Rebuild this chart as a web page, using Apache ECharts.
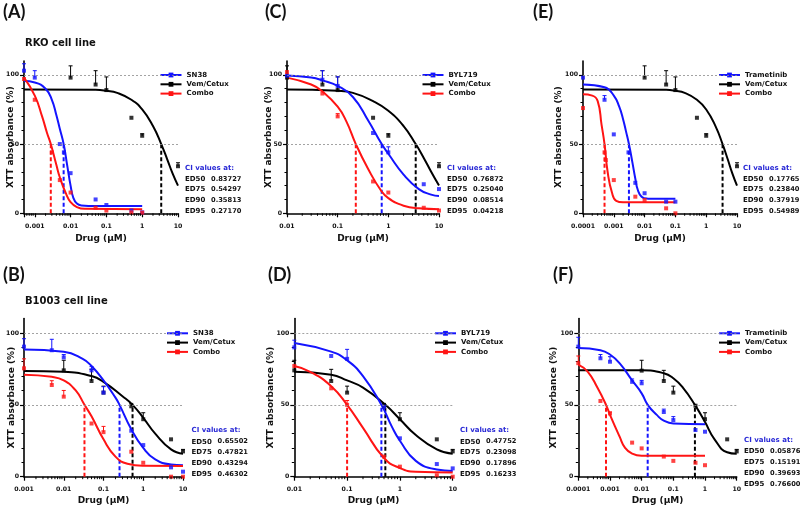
<!DOCTYPE html>
<html><head><meta charset="utf-8">
<script src="https://cdn.jsdelivr.net/npm/echarts@6/dist/echarts.min.js"></script>
<style>html,body{margin:0;padding:0;background:#fff}#c{width:800px;height:507px}</style>
</head><body><div id="c"></div>
<script>
// ---------------- DATA ----------------
const Y_TICK_LABELS = ['0', '50', '100'];
const CI_LABELS = ['ED50', 'ED75', 'ED90', 'ED95'];
const X_NAME = 'Drug (μM)';
const Y_NAME = 'XTT absorbance (%)';
const VEM = 'Vem/Cetux';
const COMBO = 'Combo';

// Panel A: RKO, SN38
const A_xTicks = ['0.001', '0.01', '0.1', '1', '10'];
const A_drugPts = [[0.0005, 103, 108], [0.001, 98, 103], [0.005, 50, null], [0.0065, 44, null], [0.01, 29, null], [0.05, 10, null], [0.1, 6, null], [0.5, 2, null], [1, 0.7, null]];
const A_vemPts = [[0.01, 98, 106.5], [0.05, 93, 103], [0.1, 89, 98.5], [0.5, 69, null], [1, 56, 57.5], [10, 34, 36.5]];
const A_comboPts = [[0.0005, 97, null], [0.001, 82, null], [0.003, 44, null], [0.005, 24, null], [0.01, 15, null], [0.05, 4, null], [0.1, 2, null], [0.5, 0.7, null], [1, 0.5, null]];
const A_drugCurve = [[0.0005, 95.5], [0.001, 94.5], [0.002, 90], [0.003, 82], [0.004, 71], [0.005, 61], [0.0064, 50], [0.008, 35], [0.01, 20], [0.012, 11], [0.015, 7], [0.02, 5.7], [0.05, 5.3], [1, 5.3]];
const A_vemCurve = [[0.0005, 89.5], [0.05, 89.2], [0.1, 88.5], [0.2, 87], [0.5, 82], [1, 75], [2, 63], [3.4, 50], [5, 39], [7, 29], [10, 20]];
const A_comboCurve = [[0.0005, 98], [0.001, 85], [0.0016, 70], [0.0022, 58], [0.0028, 50], [0.004, 35], [0.005, 26], [0.0075, 14], [0.01, 8], [0.015, 4.5], [0.025, 3.2], [1, 3]];
const A_ec50 = [0.0064, 3.4, 0.0028];   // drug, vem, combo
const A_ci = ['0.83727', '0.54297', '0.35813', '0.27170'];

// Panel C: RKO, BYL719
const C_xTicks = ['0.01', '0.1', '1', '10'];
const C_drugPts = [[0.01, 99.5, null], [0.05, 96.5, 103], [0.1, 92, 98.6], [0.5, 58, null], [1, 44, 48], [5, 21, null], [10, 17.5, null]];
const C_vemPts = [[0.01, 98, 106.5], [0.05, 93, 103], [0.1, 89, 98.5], [0.5, 69, null], [1, 56, 57.5], [10, 34, 36.5]];
const C_comboPts = [[0.01, 102, null], [0.05, 86.5, null], [0.1, 70, 72], [0.5, 23, null], [1, 15, null], [5, 4, null], [10, 2, null]];
const C_drugCurve = [[0.01, 99.5], [0.03, 98], [0.05, 96], [0.1, 92], [0.2, 84], [0.4, 67], [0.74, 50], [1, 43], [2, 28], [4, 17.5], [7, 13.5], [10, 12.5]];
const C_vemCurve = [[0.01, 89.5], [0.1, 88.5], [0.2, 87], [0.5, 81], [1, 74], [2, 63], [3.47, 50], [5, 40], [7, 30], [10, 20]];
const C_comboCurve = [[0.01, 98], [0.03, 93], [0.05, 88], [0.1, 77], [0.15, 66], [0.228, 50], [0.4, 32], [0.7, 17], [1, 11], [2, 5.5], [4, 3.6], [10, 3]];
const C_ec50 = [0.74, 3.47, 0.228];
const C_ci = ['0.76872', '0.25040', '0.08514', '0.04218'];

// Panel E: RKO, Trametinib
const E_xTicks = ['0.0001', '0.001', '0.01', '0.1', '1', '10'];
const E_drugPts = [[0.0001, 98, null], [0.0005, 82, 85], [0.001, 57, null], [0.003, 44, null], [0.005, 22, null], [0.01, 14.5, null], [0.05, 8.4, null], [0.1, 8.4, null]];
const E_vemPts = [[0.01, 98, 106.5], [0.05, 93, 103], [0.1, 89, 98.5], [0.5, 69, null], [1, 56, 57.5], [10, 34, 36.5]];
const E_comboPts = [[0.0001, 76, null], [0.0005, 44, null], [0.00055, 38.5, null], [0.001, 24, null], [0.005, 12, null], [0.01, 9.6, null], [0.05, 3.6, null], [0.1, 0, null]];
const E_drugCurve = [[0.0001, 93], [0.0005, 91], [0.001, 85], [0.0015, 77], [0.002, 68], [0.0025, 59], [0.0031, 50], [0.004, 37], [0.005, 25], [0.006, 17], [0.008, 12], [0.012, 10.6], [0.1, 10.5]];
const E_vemCurve = [[0.0001, 89.5], [0.05, 89.2], [0.1, 88.5], [0.2, 87], [0.5, 82], [1, 75], [2, 63], [3.4, 50], [5, 39], [7, 29], [10, 20]];
const E_comboCurve = [[0.0001, 86], [0.0002, 85], [0.0003, 81], [0.0004, 64], [0.0005, 50], [0.00063, 30], [0.00087, 15], [0.0012, 9], [0.002, 8], [0.1, 8]];
const E_ec50 = [0.0031, 3.4, 0.0005];
const E_ci = ['0.17765', '0.23840', '0.37919', '0.54989'];

// Panel B: B1003, SN38
const B_xTicks = ['0.001', '0.01', '0.1', '1', '10'];
const B_drugPts = [[0.001, 90.5, 96], [0.005, 88, 95.6], [0.01, 83, 85], [0.05, 74, 76.6], [0.1, 58.5, 62.6], [0.5, 32, null], [1, 22, null], [5, 6.5, null], [10, 3.5, null]];
const B_vemPts = [[0.01, 74, 81], [0.05, 66.6, 74.7], [0.1, 58.5, 63], [0.5, 49, 51], [1, 40, 44.5], [5, 26, null], [10, 17.6, 19]];
const B_comboPts = [[0.001, 75.4, 82], [0.005, 63.8, 66.8], [0.01, 55.7, 60], [0.05, 37, null], [0.1, 31, 35], [0.5, 17.4, null], [1, 9.7, null], [5, 0, null], [10, 0, null]];
const B_drugCurve = [[0.001, 88.5], [0.01, 87], [0.03, 82], [0.05, 77], [0.1, 67], [0.2, 55], [0.253, 50], [0.5, 33], [1, 20], [2, 12], [5, 8.5], [10, 8]];
const B_vemCurve = [[0.001, 73.5], [0.01, 73], [0.05, 70], [0.1, 66], [0.3, 56], [0.538, 50], [1, 41], [2, 30], [5, 19], [10, 16]];
const B_comboCurve = [[0.001, 71], [0.005, 69.5], [0.01, 67], [0.02, 60], [0.0332, 50], [0.05, 42], [0.1, 26], [0.2, 14], [0.4, 9], [1, 7.6], [10, 7.5]];
const B_ec50 = [0.253, 0.538, 0.0332];
const B_ci = ['0.65502', '0.47821', '0.43294', '0.46302'];

// Panel D: B1003, BYL719
const D_xTicks = ['0.01', '0.1', '1', '10'];
const D_drugPts = [[0.01, 90, 95], [0.05, 84, null], [0.1, 82, 88.6], [0.5, 48.7, null], [1, 26.7, null], [5, 8.8, null], [10, 5.8, null]];
const D_vemPts = [[0.01, 74, 81], [0.05, 66.6, 74.7], [0.1, 58.5, 63], [0.5, 49, 51], [1, 40, 44.5], [5, 26, null], [10, 17.6, 19]];
const D_comboPts = [[0.01, 77, null], [0.05, 61.5, null], [0.1, 50, 53], [0.5, 14, null], [1, 7, null], [5, 1, null], [10, 0, null]];
const D_drugCurve = [[0.01, 93], [0.05, 87], [0.1, 81], [0.2, 70], [0.446, 50], [0.7, 35], [1, 25], [2, 11], [5, 5], [10, 4]];
const D_vemCurve = [[0.01, 73], [0.05, 71], [0.1, 67], [0.2, 62], [0.53, 50], [1, 40], [2, 29], [5, 19], [10, 16]];
const D_comboCurve = [[0.01, 77], [0.02, 73], [0.05, 63], [0.1, 50], [0.2, 34], [0.5, 13], [1, 6], [2, 3.5], [10, 3]];
const D_ec50 = [0.446, 0.53, 0.1];
const D_ci = ['0.47752', '0.23098', '0.17896', '0.16233'];

// Panel F: B1003, Trametinib
const F_xTicks = ['0.0001', '0.001', '0.01', '0.1', '1', '10'];
const F_drugPts = [[0.0001, 90.5, 97], [0.0005, 82.4, 85], [0.001, 80, 83.5], [0.005, 66, 68], [0.01, 65, 67], [0.05, 45, 47], [0.1, 39.4, 41.8], [0.5, 32.5, null], [1, 31.3, null]];
const F_vemPts = [[0.01, 73.8, 81], [0.05, 66.6, 74], [0.1, 58.5, 63], [0.5, 49.4, null], [1, 40, 44.5], [5, 26, null], [10, 17.6, 19]];
const F_comboPts = [[0.0001, 79, 84], [0.0005, 52.7, null], [0.001, 44, 45], [0.005, 23.7, null], [0.01, 19.7, null], [0.05, 14, null], [0.1, 11, null], [0.5, 9.7, null], [1, 8, null]];
const F_drugCurve = [[0.0001, 89.5], [0.0005, 88], [0.001, 85], [0.002, 79], [0.005, 67], [0.01, 58], [0.0155, 50], [0.03, 43], [0.05, 39], [0.1, 37], [1, 36.5]];
const F_vemCurve = [[0.0001, 74], [0.01, 74], [0.05, 72], [0.1, 68.5], [0.2, 62], [0.48, 50], [1, 38], [2, 26], [5, 17], [10, 16]];
const F_comboCurve = [[0.0001, 78], [0.0002, 73], [0.0004, 62], [0.00075, 50], [0.001, 43], [0.002, 28], [0.003, 20], [0.005, 16], [0.01, 14.5], [1, 14.5]];
const F_ec50 = [0.0155, 0.48, 0.00075];
const F_ci = ['0.05876', '0.15191', '0.39693', '0.76600'];

// ---------------- LAYOUT / STYLE ----------------
const BLUE = '#1414ff', RED = '#ff1414', BLACK = '#000000', CIBLUE = '#2a2ad6';
const FONT = 'DejaVu Sans';
const ROW1 = {top: 61, height: 152.3, ci: [168, 179, 189.5, 200.5, 211], legendTop: 71.5, xGap: 21};
const ROW2 = {top: 318.6, height: 158.1, ci: [430.5, 441.7, 452.5, 463.3, 474.3], legendTop: 329.8, xGap: 19.5};

const panels = [
  {letter: '(A)', lx: 3, ly: 3, title: 'RKO cell line', row: ROW1, left: 24, width: 154, xMin: 0.0005, ticks: A_xTicks, drug: 'SN38',
   drugPts: A_drugPts, vemPts: A_vemPts, comboPts: A_comboPts, drugCurve: A_drugCurve, vemCurve: A_vemCurve, comboCurve: A_comboCurve,
   ec50: A_ec50, ci: A_ci, ciX: 185, yGap: 8.5, legLeft: 159.5},
  {letter: '(C)', lx: 265, ly: 3, row: ROW1, left: 287, width: 152, xMin: 0.01, ticks: C_xTicks, drug: 'BYL719',
   drugPts: C_drugPts, vemPts: C_vemPts, comboPts: C_comboPts, drugCurve: C_drugCurve, vemCurve: C_vemCurve, comboCurve: C_comboCurve,
   ec50: C_ec50, ci: C_ci, ciX: 447, yGap: 13.5, legLeft: 421.5},
  {letter: '(E)', lx: 533, ly: 3, row: ROW1, left: 583, width: 154, xMin: 0.0001, ticks: E_xTicks, drug: 'Trametinib',
   drugPts: E_drugPts, vemPts: E_vemPts, comboPts: E_comboPts, drugCurve: E_drugCurve, vemCurve: E_vemCurve, comboCurve: E_comboCurve,
   ec50: E_ec50, ci: E_ci, ciX: 743, yGap: 20, legLeft: 718},
  {letter: '(B)', lx: 3, ly: 266, title: 'B1003 cell line', row: ROW2, left: 24, width: 159, xMin: 0.001, ticks: B_xTicks, drug: 'SN38',
   drugPts: B_drugPts, vemPts: B_vemPts, comboPts: B_comboPts, drugCurve: B_drugCurve, vemCurve: B_vemCurve, comboCurve: B_comboCurve,
   ec50: B_ec50, ci: B_ci, ciX: 191.5, yGap: 8, legLeft: 166},
  {letter: '(D)', lx: 268, ly: 266, row: ROW2, left: 294.3, width: 158.4, xMin: 0.01, ticks: D_xTicks, drug: 'BYL719',
   drugPts: D_drugPts, vemPts: D_vemPts, comboPts: D_comboPts, drugCurve: D_drugCurve, vemCurve: D_vemCurve, comboCurve: D_comboCurve,
   ec50: D_ec50, ci: D_ci, ciX: 460, yGap: 19, legLeft: 434},
  {letter: '(F)', lx: 553, ly: 266, row: ROW2, left: 578.3, width: 158.4, xMin: 0.0001, ticks: F_xTicks, drug: 'Trametinib',
   drugPts: F_drugPts, vemPts: F_vemPts, comboPts: F_comboPts, drugCurve: F_drugCurve, vemCurve: F_vemCurve, comboCurve: F_comboCurve,
   ec50: F_ec50, ci: F_ci, ciX: 744, ciY: [440, 451.3, 462.3, 473.3, 484], yGap: 20, legLeft: 718}
];

// ---------------- BUILD ----------------
const grids = [], xAxes = [], yAxes = [], series = [], legends = [], graphics = [];
const boldFont = (s) => ({fontFamily: FONT, fontWeight: 'bold', fontSize: s, color: '#111'});

function labelFor(ticks) {
  return function (v) {
    for (const s of ticks) {
      if (Math.abs(Math.log10(v) - Math.log10(parseFloat(s))) < 1e-3) return s;
    }
    return '';
  };
}

function errRender(color) {
  return function (params, api) {
    const p = api.coord([api.value(0), api.value(1)]);
    const t = api.coord([api.value(0), api.value(2)]);
    return {type: 'group', children: [
      {type: 'line', shape: {x1: p[0], y1: p[1], x2: t[0], y2: t[1]}, style: {stroke: color, lineWidth: 1}},
      {type: 'line', shape: {x1: t[0] - 2, y1: t[1], x2: t[0] + 2, y2: t[1]}, style: {stroke: color, lineWidth: 1}}
    ]};
  };
}

panels.forEach((P, i) => {
  const R = P.row;
  grids.push({left: P.left, top: R.top, width: P.width, height: R.height, containLabel: false, outerBoundsMode: 'none'});
  xAxes.push({
    gridIndex: i, type: 'log', logBase: 10, min: P.xMin, max: 10,
    axisLine: {show: true, onZero: false, lineStyle: {color: '#000', width: 1.6}},
    axisTick: {show: true, length: 4, lineStyle: {color: '#000', width: 1.2}},
    axisLabel: Object.assign({formatter: labelFor(P.ticks), margin: 10, showMinLabel: true, hideOverlap: false}, boldFont(6.2)),
    splitLine: {show: false},
    name: X_NAME, nameLocation: 'middle', nameGap: R.xGap, nameMoveOverlap: false,
    nameTextStyle: boldFont(9)
  });
  yAxes.push({
    gridIndex: i, type: 'value', min: 0, max: 110, interval: 50,
    axisLine: {show: true, lineStyle: {color: '#000', width: 1.6}},
    axisTick: {show: true, length: 4, customValues: [0, 50, 100], lineStyle: {color: '#000', width: 1.2}},
    minorTick: {show: true, splitNumber: 5, length: 2.5, lineStyle: {color: '#000', width: 1}},
    axisLabel: Object.assign({customValues: [0, 50, 100], margin: 5,
      formatter: (v) => (Y_TICK_LABELS.indexOf(String(v)) >= 0 ? String(v) : '')}, boldFont(6.2)),
    splitLine: {show: false},
    name: Y_NAME, nameLocation: 'middle', nameGap: P.yGap, nameMoveOverlap: false,
    nameTextStyle: boldFont(9)
  });
  const ax = {xAxisIndex: i, yAxisIndex: i};

  // EC50 dashed drop lines
  const ecColors = [BLUE, BLACK, RED];
  P.ec50.forEach((ec, k) => {
    series.push(Object.assign({type: 'line', name: 'ec' + i + '_' + k, data: [[ec, 0], [ec, 50]], symbol: 'none', silent: true, z: 2,
      lineStyle: {color: ecColors[k], width: 2, type: [4, 2.5]}}, ax));
  });

  // curves
  const curves = [[VEM, P.vemCurve, BLACK], [P.drug, P.drugCurve, BLUE], [COMBO, P.comboCurve, RED]];
  curves.forEach(([name, data, color], k) => {
    const s = Object.assign({type: 'line', name: name, data: data, smooth: 0.5,
      symbol: 'rect', symbolSize: 4, showSymbol: false, silent: true, z: 3,
      lineStyle: {color: color, width: 2}, itemStyle: {color: color}}, ax);
    if (k === 0) {
      s.markLine = {silent: true, symbol: 'none', label: {show: false}, animation: false,
        lineStyle: {color: '#8c8c8c', type: [2, 2], width: 0.8}, data: [{yAxis: 50}, {yAxis: 100}]};
    }
    series.push(s);
  });

  // points + error bars
  const pts = [[VEM, P.vemPts, BLACK], [P.drug, P.drugPts, BLUE], [COMBO, P.comboPts, RED]];
  pts.forEach(([name, data, color]) => {
    series.push(Object.assign({type: 'scatter', name: name + ' points ' + i, data: data.map(p => [p[0], p[1]]),
      symbol: 'rect', symbolSize: 4, itemStyle: {color: color}, silent: true, z: 4}, ax));
    const eb = data.filter(p => p[2] !== null);
    series.push(Object.assign({type: 'custom', name: name + ' err ' + i, data: eb, renderItem: errRender(color),
      silent: true, z: 4, encode: {x: 0, y: [1, 2]}}, ax));
  });

  // minor log ticks on x axis
  const minor = [];
  for (let e = Math.floor(Math.log10(P.xMin)); e < 1; e++) {
    for (let m = 2; m <= 9; m++) {
      const v = m * Math.pow(10, e);
      if (v > P.xMin * 1.0001 && v < 10) minor.push([v, 0]);
    }
  }
  series.push(Object.assign({type: 'custom', name: 'minor' + i, data: minor, silent: true, z: 5, clip: false,
    renderItem: function (params, api) {
      const p = api.coord([api.value(0), 0]);
      return {type: 'line', shape: {x1: p[0], y1: p[1], x2: p[0], y2: p[1] + 2.5}, style: {stroke: '#000', lineWidth: 1}};
    }}, ax));

  // legend
  legends.push({
    data: [P.drug, VEM, COMBO], orient: 'vertical', left: P.legLeft, top: R.legendTop, padding: 0,
    itemWidth: 21, itemHeight: 6, itemGap: 2.3, selectedMode: false,
    textStyle: {fontFamily: FONT, fontWeight: 'bold', fontSize: 7, color: '#111', lineHeight: 6}
  });

  // texts
  graphics.push({type: 'text', x: P.lx, y: P.ly, silent: true,
    style: {text: P.letter, font: 'bold 18px Lato', fill: '#111', align: 'left', verticalAlign: 'top'}});
  if (P.title) {
    graphics.push({type: 'text', x: 25, y: P.letter === '(A)' ? 43 : 301, silent: true,
      style: {text: P.title, font: 'bold 10px "DejaVu Sans"', fill: '#111', align: 'left', verticalAlign: 'middle'}});
  }
  const cy = P.ciY || R.ci;
  graphics.push({type: 'text', x: P.ciX, y: cy[0], silent: true,
    style: {text: 'CI values at:', font: 'bold 7px "DejaVu Sans"', fill: CIBLUE, align: 'left', verticalAlign: 'middle'}});
  CI_LABELS.forEach((lab, k) => {
    graphics.push({type: 'text', x: P.ciX, y: cy[k + 1], silent: true,
      style: {text: lab, font: 'bold 7px "DejaVu Sans"', fill: '#111', align: 'left', verticalAlign: 'middle'}});
    graphics.push({type: 'text', x: P.ciX + 26, y: cy[k + 1], silent: true,
      style: {text: P.ci[k], font: 'bold 6.7px "DejaVu Sans"', fill: '#111', align: 'left', verticalAlign: 'middle'}});
  });
});

const chart = echarts.init(document.getElementById('c'), null, {renderer: 'canvas'});
chart.setOption({
  backgroundColor: '#ffffff',
  animation: false,
  grid: grids, xAxis: xAxes, yAxis: yAxes, series: series, legend: legends, graphic: graphics
});
</script></body></html>
